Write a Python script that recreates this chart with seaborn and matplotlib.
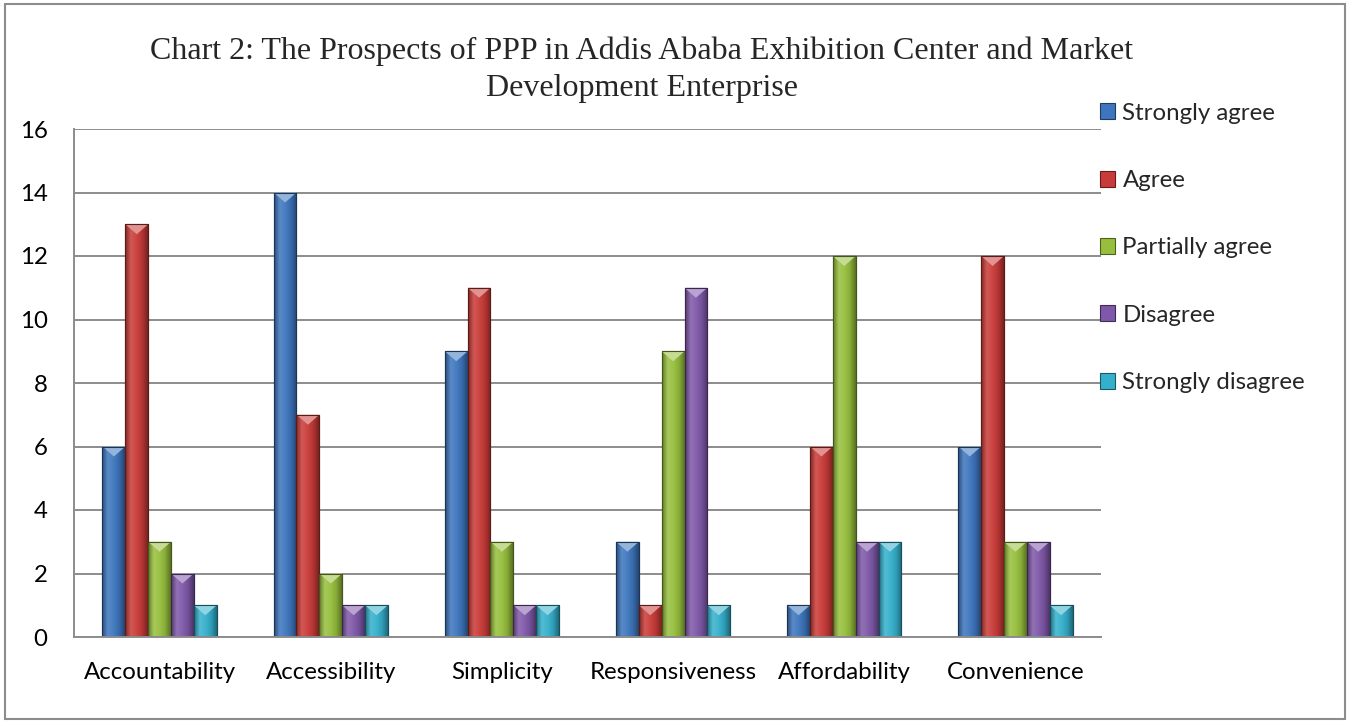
import numpy as np
import pandas as pd
import matplotlib
matplotlib.use("Agg")
import matplotlib.pyplot as plt
import seaborn as sns
from matplotlib.colors import LinearSegmentedColormap, to_rgb
from matplotlib.patches import Rectangle, Polygon

categories = ["Accountability", "Accessibility", "Simplicity", "Responsiveness", "Affordability", "Convenience"]
responses = ["Strongly agree", "Agree", "Partially agree", "Disagree", "Strongly disagree"]
strongly_agree = [6, 14, 9, 3, 1, 6]
agree = [13, 7, 11, 1, 6, 12]
partially_agree = [3, 2, 3, 9, 12, 3]
disagree = [2, 1, 1, 11, 3, 3]
strongly_disagree = [1, 1, 1, 1, 3, 1]
y_ticks = [0, 2, 4, 6, 8, 10, 12, 14, 16]
title = "Chart 2: The Prospects of PPP in Addis Ababa Exhibition Center and Market\nDevelopment Enterprise"

colors = ["#3D76BE", "#C93B38", "#97BF3D", "#7F58A9", "#35B0CC"]

series = [strongly_agree, agree, partially_agree, disagree, strongly_disagree]
rows = []
for resp, vals in zip(responses, series):
    for cat, v in zip(categories, vals):
        rows.append({"category": cat, "response": resp, "count": v})
df = pd.DataFrame(rows)

sns.set_theme(style="white")
plt.rcParams["font.family"] = ["Lato", "DejaVu Sans"]

W, H = 1356, 722
fig = plt.figure(figsize=(W / 100, H / 100), dpi=100)
ax = fig.add_axes([74 / W, 1 - 637 / H, (1101 - 74) / W, (637 - 129) / H])

sns.barplot(data=df, x="category", y="count", hue="response", hue_order=responses,
            order=categories, palette=colors, width=0.667, gap=0, ax=ax,
            legend=False, errorbar=None, saturation=1)

ax.set_xlim(-0.5, len(categories) - 0.5)
ax.set_ylim(y_ticks[0], y_ticks[-1])
ax.set_yticks(y_ticks)
ax.set_yticklabels([str(t) for t in y_ticks])
ax.yaxis.grid(True, color="#8C8C8C", linewidth=1.4)
ax.set_axisbelow(True)
ax.set_xlabel("")
ax.set_ylabel("")
for s in ["top", "right"]:
    ax.spines[s].set_visible(False)
for s in ["left", "bottom"]:
    ax.spines[s].set_color("#8C8C8C")
    ax.spines[s].set_linewidth(1.4)
ax.tick_params(axis="both", length=0, labelsize=17.3, colors="black")
ax.tick_params(axis="y", pad=19)
ax.tick_params(axis="x", pad=18)


def shade(c, f):
    r = np.array(to_rgb(c))
    if f >= 0:
        return tuple(r + (1 - r) * f)
    return tuple(r * (1 + f))


fig.canvas.draw()
px_per_unit = ax.get_window_extent().height / (y_ticks[-1] - y_ticks[0])
tri_h = 10 / px_per_unit

for container, col in zip(ax.containers, colors):
    cmap = LinearSegmentedColormap.from_list(
        "bev", [shade(col, -0.35), shade(col, 0.15), shade(col, 0.05), shade(col, -0.1), shade(col, -0.4)])
    grad = np.linspace(0, 1, 64).reshape(1, -1)
    for p in container.patches:
        x0, y0, w, h = p.get_x(), p.get_y(), p.get_width(), p.get_height()
        p.set_edgecolor(shade(col, -0.55))
        p.set_linewidth(0.8)
        im = ax.imshow(grad, extent=[x0, x0 + w, y0, y0 + h], aspect="auto",
                       cmap=cmap, zorder=p.get_zorder() + 0.1, interpolation="bilinear")
        im.set_clip_path(p)
        top = y0 + h
        th = min(tri_h, h)
        tri = Polygon([(x0, top), (x0 + w, top), (x0 + w / 2, top - th)], closed=True,
                      facecolor=shade(col, 0.45), edgecolor="none", zorder=p.get_zorder() + 0.2)
        ax.add_patch(tri)
        ax.add_patch(Rectangle((x0, y0), w, h, fill=False, edgecolor=shade(col, -0.55),
                               linewidth=0.8, zorder=p.get_zorder() + 0.3))

ax.set_xlim(-0.5, len(categories) - 0.5)
ax.set_ylim(y_ticks[0], y_ticks[-1])

handles = [Rectangle((0, 0), 1, 1, facecolor=c, edgecolor=shade(c, -0.5), linewidth=0.8) for c in colors]
fig.legend(handles, responses, loc="upper left", bbox_to_anchor=(1090 / W, 1 - 93 / H),
           frameon=False, fontsize=17.3, labelspacing=1.93, handlelength=0.65, handleheight=0.65,
           handletextpad=0.3, borderaxespad=0)

fig.text(642 / W, 1 - 70 / H, title, ha="center", va="center", multialignment="center",
         fontsize=23, family=["Liberation Serif", "DejaVu Serif"], linespacing=1.38)

fig.add_artist(Rectangle((5 / W, 1 - 719 / H), (1345 - 5) / W, (719 - 4) / H,
                         transform=fig.transFigure, fill=False, edgecolor="#8C8C8C", linewidth=1.5))

fig.savefig("out.png", dpi=100)
